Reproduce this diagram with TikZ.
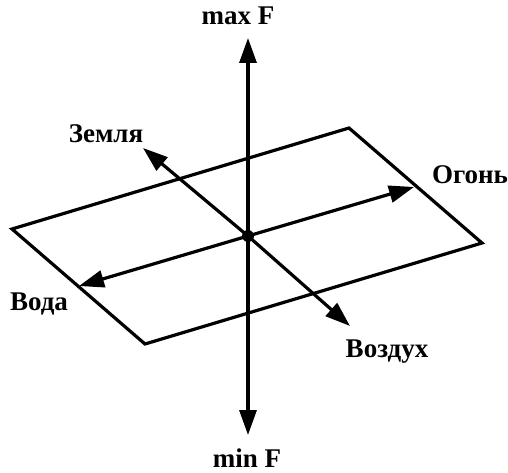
\documentclass[tikz,border=0pt]{standalone}
\usepackage{fontspec}
\setmainfont{Liberation Serif}
\usetikzlibrary{arrows.meta}
\begin{document}
\begin{tikzpicture}[x=1pt,y=-1pt,
  line/.style={line width=3.2pt},
  arr/.style={line width=3.2pt,-{Triangle[length=25pt,width=17pt]}},
  lbl/.style={font=\fontsize{27}{29}\selectfont\bfseries, inner sep=0pt, anchor=base}]
\useasboundingbox (0,0) rectangle (508,473);
\coordinate (pl) at (12,229);
\coordinate (pb) at (145,344);
\coordinate (pr) at (482,243);
\coordinate (pt) at (349,128);
\draw[line, line join=miter] (pl) -- (pb) -- (pr) -- (pt) -- cycle;
\coordinate (c) at (248,236);
\coordinate (top) at (248,38);
\coordinate (bot) at (248,435);
\coordinate (zem) at (143,148);
\coordinate (voz) at (350,326);
\coordinate (ogo) at (414,187);
\coordinate (vod) at (79,286);
\draw[arr] (c) -- (top);
\draw[arr] (c) -- (bot);
\draw[arr] (c) -- (zem);
\draw[arr] (c) -- (voz);
\draw[arr] (c) -- (ogo);
\draw[arr] (c) -- (vod);
\fill (c) circle (6pt);
\node[lbl] (maxF) at (238,25) {max F};
\node[lbl] (minF) at (247,467) {min F};
\node[lbl] (zl) at (106,143) {Земля};
\node[lbl] (ol) at (470,183) {Огонь};
\node[lbl] (vl) at (39,310) {Вода};
\node[lbl] (al) at (387,357) {Воздух};
\end{tikzpicture}
\end{document}
